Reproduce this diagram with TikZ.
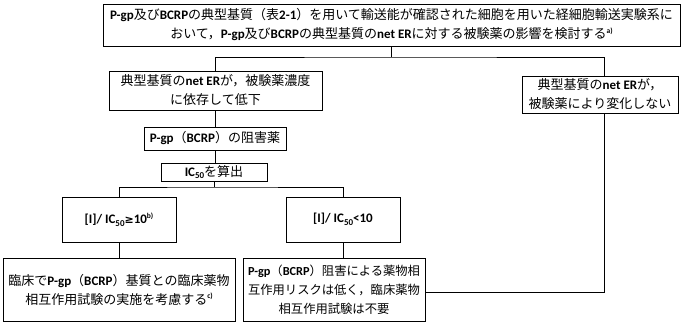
\documentclass[tikz,border=0pt]{standalone}
\usepackage{fontspec}
\setmainfont{Noto Sans CJK JP}
\newfontfamily\latf{Carlito}
\newfontfamily\symf{DejaVu Sans}
\newcommand{\La}[1]{{\latf\bfseries #1}}
\newcommand{\sbs}[1]{\raisebox{-0.4ex}{\latf\bfseries\fontsize{9}{9}\selectfont #1}}
\newcommand{\sps}[1]{\raisebox{0.75ex}{\latf\bfseries\fontsize{7.5}{7.5}\selectfont #1}}
\begin{document}
\begin{tikzpicture}[x=1pt,y=-1pt,
  box/.style={draw, fill=white, line width=0.9pt, inner sep=0pt, align=center,
    font=\fontsize{13}{19}\selectfont},
  conn/.style={line width=0.9pt}]
\useasboundingbox (0,0) rectangle (686,324);
% nodes
\node[box, minimum width=577pt, minimum height=42pt] (top) at (391.5,25)
  {\La{P-gp}及び\La{BCRP}の典型基質（表\La{2-1}）を用いて輸送能が確認された細胞を用いた経細胞輸送実験系に\\おいて，\La{P-gp}及び\La{BCRP}の典型基質の\La{net ER}に対する被験薬の影響を検討する\sps{a)}};
\node[box, minimum width=213pt, minimum height=39pt] (left1) at (215.5,90.5)
  {典型基質の\La{net ER}が，被験薬濃度\\に依存して低下};
\node[box, minimum width=156pt, minimum height=37pt] (right1) at (600,94.5)
  {典型基質の\La{net ER}が，\\被験薬により変化しない};
\node[box, minimum width=142pt, minimum height=23pt] (inh) at (215,138.5)
  {\La{P-gp}（\La{BCRP}）の阻害薬};
\node[box, minimum width=106pt, minimum height=18pt] (ic) at (214,172)
  {\La{IC}\sbs{50}を算出};
\node[box, minimum width=114pt, minimum height=45pt] (ge) at (119,219.5)
  {\La{[I]/ IC}\sbs{50}{\symf\bfseries\fontsize{11}{11}\selectfont ≥}\La{10}\sps{b)}};
\node[box, minimum width=114pt, minimum height=45pt] (lt) at (343,219.5)
  {\La{[I]/ IC}\sbs{50}\La{<10}};
\node[box, minimum width=232pt, minimum height=63pt] (bl) at (119,289.5)
  {臨床で\La{P-gp}（\La{BCRP}）基質との臨床薬物\\相互作用試験の実施を考慮する\sps{c)}};
\node[box, minimum width=182pt, minimum height=63pt, font=\fontsize{12.3}{19}\selectfont] (bm) at (334,289.5)
  {\La{P-gp}（\La{BCRP}）阻害による薬物相\\互作用リスクは低く，臨床薬物\\相互作用試験は不要};
% junction coordinates
\coordinate (b1) at (391.5,57);
\coordinate (rt) at (604,57);
\coordinate (rb) at (604,292);
\coordinate (b2) at (214,187);
% connectors
\draw[conn] (top.south) -- (b1);
\draw[conn] (left1.north) |- (b1) -- (rt) -- (rt |- right1.north);
\draw[conn] (rt |- right1.south) -- (rb) -- (bm.east |- rb);
\draw[conn] (left1.south) -- (left1.south |- inh.north);
\draw[conn] (inh.south) -- (inh.south |- ic.north);
\draw[conn] (ic.south) -- (b2);
\draw[conn] (ge.north) |- (b2) -| (lt.north);
\draw[conn] (ge.south) -- (bl.north);
\draw[conn] (lt.south) -- (lt.south |- bm.north);
\end{tikzpicture}
\end{document}
